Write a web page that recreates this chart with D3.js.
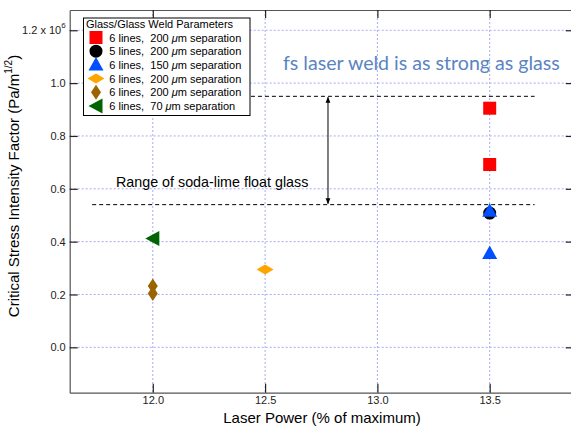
<!DOCTYPE html>
<html><head><meta charset="utf-8">
<script src="https://cdn.jsdelivr.net/npm/d3@7"></script>
<style>
html,body{margin:0;padding:0;background:#fff;}
svg{display:block;font-family:"Liberation Sans",Arial,Helvetica,sans-serif;}
</style></head>
<body><svg id="c" width="571" height="426"></svg>
<script>
// ---- data ----
const xTicks = [12.0, 12.5, 13.0, 13.5];
const yTicks = [0.0, 0.2, 0.4, 0.6, 0.8, 1.0, 1.2];
const seriesLabels = ["6 lines,  200 \u03bcm separation", "5 lines,  200 \u03bcm separation",
  "6 lines,  150 \u03bcm separation", "6 lines,  200 \u03bcm separation",
  "6 lines,  200 \u03bcm separation", "6 lines,  70 \u03bcm separation"];
const seriesColors = ["#ff0000", "#000000", "#0050ff", "#ffa500", "#9a6400", "#006400"];
const seriesShapes = ["square", "circle", "triUp", "diamondWide", "diamondTall", "triLeft"];
const redX = [13.5, 13.5],  redY = [0.905, 0.692];
const blackX = [13.5],      blackY = [0.508];
const blueX = [13.5, 13.5], blueY = [0.515, 0.355];
const orangeX = [12.5],     orangeY = [0.295];
const brownX = [12.0, 12.0], brownY = [0.232, 0.204];
const greenX = [12.0],      greenY = [0.412];
const glassLow = 0.54, glassHigh = 0.95;

const seriesX = [redX, blackX, blueX, orangeX, brownX, greenX];
const seriesY = [redY, blackY, blueY, orangeY, brownY, greenY];

// ---- layout ----
const svg = d3.select("#c");
const L = 69.7, R = 572.8, T = 10, B = 392.7;
const x = d3.scaleLinear().domain([11.63, 13.87]).range([L, R]);
const y = d3.scaleLinear().domain([-0.1717, 1.2767]).range([B, T]);

function shapePath(shape, cx, cy) {
  switch (shape) {
    case "square": return `M${cx-6.5},${cy-6.5}h13v13h-13Z`;
    case "circle": return `M${cx+6.5},${cy}A6.5,6.5 0 1,1 ${cx-6.5},${cy}A6.5,6.5 0 1,1 ${cx+6.5},${cy}Z`;
    case "triUp": return `M${cx},${cy-8}L${cx+7.5},${cy+5.5}L${cx-7.5},${cy+5.5}Z`;
    case "diamondWide": return `M${cx-8.5},${cy}L${cx},${cy-5}L${cx+8.5},${cy}L${cx},${cy+5}Z`;
    case "diamondTall": return `M${cx-5},${cy}L${cx},${cy-7.5}L${cx+5},${cy}L${cx},${cy+7.5}Z`;
    case "triLeft": return `M${cx-7.5},${cy}L${cx+6.5},${cy-7.5}L${cx+6.5},${cy+7.5}Z`;
  }
}

// grid
const grid = svg.append("g");
grid.selectAll("line.gx").data(xTicks).join("line")
  .attr("x1", d => x(d)).attr("x2", d => x(d)).attr("y1", T).attr("y2", B)
  .attr("stroke", "#a9a9f5").attr("stroke-width", 1).attr("stroke-dasharray", "2,2");
grid.selectAll("line.gy").data(yTicks).join("line")
  .attr("y1", d => y(d)).attr("y2", d => y(d)).attr("x1", L).attr("x2", R)
  .attr("stroke", "#a9a9f5").attr("stroke-width", 1).attr("stroke-dasharray", "2,2");

// axes
const axB = svg.append("g").attr("transform", `translate(0,${B})`)
  .call(d3.axisBottom(x).tickValues(xTicks).tickSizeInner(-9).tickSizeOuter(0).tickPadding(4)
    .tickFormat(d3.format(".1f")));
const axT = svg.append("g").attr("transform", `translate(0,${T})`)
  .call(d3.axisTop(x).tickValues(xTicks).tickSizeInner(-8).tickSizeOuter(0).tickFormat(""));
const axL = svg.append("g").attr("transform", `translate(${L},0)`)
  .call(d3.axisLeft(y).tickValues(yTicks).tickSizeInner(-8).tickSizeOuter(0).tickPadding(4)
    .tickFormat(d => d === 1.2 ? "" : d3.format(".1f")(d)));
const axR = svg.append("g").attr("transform", `translate(${R},0)`)
  .call(d3.axisRight(y).tickValues(yTicks).tickSizeInner(-7).tickSizeOuter(0).tickFormat(""));
[axB, axT, axL, axR].forEach(a => {
  a.select(".domain").attr("stroke", "#555").attr("stroke-width", 1.2);
  a.selectAll(".tick line").attr("stroke", "#222").attr("stroke-width", 1.2);
  a.selectAll(".tick text").attr("font-size", 11).attr("fill", "#222")
    .attr("font-family", "Liberation Sans, Arial, sans-serif");
});
// 1.2 x 10^6 label
const lab12 = svg.append("text").attr("x", L - 4).attr("y", y(1.2) + 4)
  .attr("text-anchor", "end").attr("font-size", 11).attr("fill", "#222");
lab12.append("tspan").text("1.2 x 10");
lab12.append("tspan").attr("dy", -6).attr("font-size", 8).text("6");

// glass range lines
svg.append("line").attr("x1", x(11.73)).attr("x2", x(13.70)).attr("y1", y(glassLow)).attr("y2", y(glassLow))
  .attr("stroke", "#000").attr("stroke-width", 1).attr("stroke-dasharray", "4,3");
svg.append("line").attr("x1", x(12.437)).attr("x2", x(13.70)).attr("y1", y(glassHigh)).attr("y2", y(glassHigh))
  .attr("stroke", "#000").attr("stroke-width", 1).attr("stroke-dasharray", "4,3");
// double arrow
const ax = x(12.78);
svg.append("defs").html(`<marker id="ah" viewBox="0 0 10 10" refX="9" refY="5" markerWidth="6" markerHeight="8" orient="auto-start-reverse" markerUnits="userSpaceOnUse"><path d="M0,1L10,5L0,9Z" fill="#000"/></marker>`);
svg.append("line").attr("x1", ax).attr("x2", ax).attr("y1", y(glassHigh) + 1).attr("y2", y(glassLow) - 1)
  .attr("stroke", "#000").attr("stroke-width", 1)
  .attr("marker-start", "url(#ah)").attr("marker-end", "url(#ah)");

svg.append("text").attr("x", 116).attr("y", 187).attr("font-size", 14.3).attr("fill", "#000")
  .text("Range of soda-lime float glass");
svg.append("text").attr("x", 283).attr("y", 70).attr("font-size", 19.6)
  .attr("font-family", "Lato, 'Open Sans', sans-serif").attr("fill", "#5a84c2")
  .text("fs laser weld is as strong as glass");

// data markers
seriesShapes.forEach((sh, i) => {
  const pts = seriesX[i].map((vx, j) => [vx, seriesY[i][j]]);
  svg.append("g").selectAll("path").data(pts).join("path")
    .attr("d", d => shapePath(sh, x(d[0]), y(d[1])))
    .attr("fill", seriesColors[i]);
});

// axis titles
svg.append("text").attr("x", 322).attr("y", 423).attr("text-anchor", "middle")
  .attr("font-size", 15).attr("fill", "#000").text("Laser Power (% of maximum)");
const yt = svg.append("text").attr("transform", "translate(18.5,186) rotate(-90)")
  .attr("text-anchor", "middle").attr("font-size", 15).attr("fill", "#000");
yt.append("tspan").text("Critical Stress Intensity Factor (Pa/m");
yt.append("tspan").attr("dy", -7).attr("font-size", 10).text("1/2");
yt.append("tspan").attr("dy", 7).text(")");

// legend
const lg = svg.append("g");
lg.append("rect").attr("x", 83.5).attr("y", 18).attr("width", 166.5).attr("height", 97.5)
  .attr("fill", "#fff").attr("stroke", "#000").attr("stroke-width", 1);
lg.append("text").attr("x", 86).attr("y", 28).attr("font-size", 11).text("Glass/Glass Weld Parameters");
seriesLabels.forEach((lab, i) => {
  const cy = 37.5 + i * 13.7;
  lg.append("path").attr("d", shapePath(seriesShapes[i], 96, cy)).attr("fill", seriesColors[i]);
  const t = lg.append("text").attr("x", 109.3).attr("y", cy + 4).attr("font-size", 11).attr("fill", "#000")
    .attr("xml:space", "preserve").style("white-space", "pre");
  const parts = lab.split("\u03bc");
  t.append("tspan").text(parts[0]);
  t.append("tspan").attr("font-style", "italic").text("\u03bc");
  t.append("tspan").text(parts[1]);
});
</script>
</body></html>
